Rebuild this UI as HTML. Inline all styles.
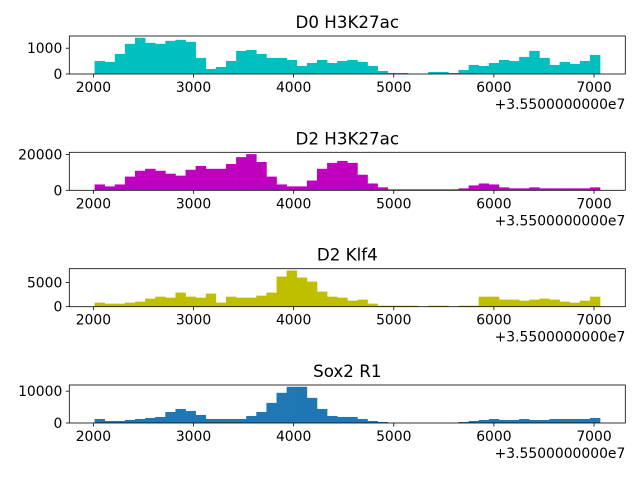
<!DOCTYPE html>
<html><head><meta charset="utf-8"><style>
html,body{margin:0;padding:0;background:#fff;}
svg{display:block;font-family:"DejaVu Sans","Liberation Sans",sans-serif;}
</style></head><body>
<svg id="chart" width="640" height="480" viewBox="0 0 640 480" xmlns="http://www.w3.org/2000/svg"></svg>
<script>
const binStart = 2012;
const binWidth = 100.96;
const titles = ["D0 H3K27ac", "D2 H3K27ac", "D2 Klf4", "Sox2 R1"];
const yTicksAll = [[0, 1000], [0, 20000], [0, 5000], [0, 10000]];
const xTicks = [2000, 3000, 4000, 5000, 6000, 7000];
const offsetLabel = "+3.5500000000e7";
const d0H3K27ac = [506,468,779,1169,1403,1208,1169,1286,1325,1247,623,195,273,506,896,935,779,623,623,545,312,428,545,428,506,545,468,312,117,39,39,0,0,78,78,39,156,351,312,428,545,506,662,896,623,351,468,390,506,740];
const d2H3K27ac = [3270,2180,3270,7640,10900,12000,10900,9270,8180,11450,13600,12000,12000,14700,18500,20200,15800,7640,3270,2180,2180,5450,12000,15300,16400,15300,8700,3800,1640,545,545,545,545,545,545,545,1090,2730,3800,3270,1640,1090,1090,1640,1090,1090,1090,1090,1090,1640];
const d2Klf4 = [833,625,625,833,1040,1670,2080,1870,2920,2080,1870,2710,833,2080,1870,1870,2290,2920,6250,7500,6040,5210,3120,2080,1870,1250,1460,625,208,208,208,208,0,208,208,0,208,208,2080,2080,1460,1460,1250,1460,1670,1460,1040,833,1250,2080];
const sox2R1 = [1260,630,630,950,1260,1580,1900,3470,4420,3790,2530,1260,1260,1260,1260,2210,3470,6320,9480,11370,11370,7900,4420,2210,1900,1900,1260,630,316,0,0,0,0,0,0,0,316,630,950,1260,950,950,1260,950,950,1260,1260,1260,1260,1580];
const seriesAll = [d0H3K27ac, d2H3K27ac, d2Klf4, sox2R1];
const colors = ["#00bfbf", "#bf00bf", "#bfbf00", "#1f77b4"];

const svg = document.getElementById('chart');
const NS = "http://www.w3.org/2000/svg";
const L = 69.3, R = 625.3, H = 38, tops = [36, 152.3, 268.7, 385];
const nb = d0H3K27ac.length;
const dMin = binStart, dMax = binStart + binWidth * nb;
const xMin = dMin - 0.05 * (dMax - dMin), xMax = dMax + 0.05 * (dMax - dMin);
function xs(v){ return L + (v - xMin) / (xMax - xMin) * (R - L); }
function mk(tag, attrs, parent){ const e = document.createElementNS(NS, tag); for (const k in attrs) e.setAttribute(k, attrs[k]); (parent||svg).appendChild(e); return e; }

seriesAll.forEach((vals, p) => {
  const top = tops[p], bot = top + H;
  const yMax = Math.max(...vals) * 1.05;
  const ys = v => bot - v / yMax * H;
  const g = mk('g', {});
  
  
  vals.forEach((v, i) => {
    if (v <= 0) return;
    const x0 = xs(binStart + i * binWidth), x1 = xs(binStart + (i+1) * binWidth);
    const r = mk('rect', {x: x0, y: ys(v), width: x1 - x0 + 0.3, height: bot - ys(v), fill: colors[p]}, g);
    
    
  });
  const fr = mk('rect', {x: L, y: top, width: R - L, height: H, fill: 'none', stroke: '#000', 'stroke-width': 0.8}, g);
  
  
  const t = mk('text', {x: (L+R)/2, y: top - 8, 'text-anchor': 'middle', 'font-size': 16.7}, g);
  t.textContent = titles[p];
  
  
  xTicks.forEach(v => {
    const x = xs(v);
    mk('line', {x1: x, x2: x, y1: bot, y2: bot + 3.5, stroke: '#000', 'stroke-width': 0.8}, g);
    const tl = mk('text', {x: x, y: bot + 18, 'text-anchor': 'middle', 'font-size': 13.9}, g);
    tl.textContent = v;
    
    
  });
  yTicksAll[p].forEach(v => {
    const y = ys(v);
    mk('line', {x1: L - 3.5, x2: L, y1: y, y2: y, stroke: '#000', 'stroke-width': 0.8}, g);
    const tl = mk('text', {x: L - 7, y: y + 5, 'text-anchor': 'end', 'font-size': 13.9}, g);
    tl.textContent = v;
    
    
  });
  const off = mk('text', {x: R, y: bot + 35, 'text-anchor': 'end', 'font-size': 13.9}, g);
  off.textContent = offsetLabel;
  
  
});
</script>
</body></html>
